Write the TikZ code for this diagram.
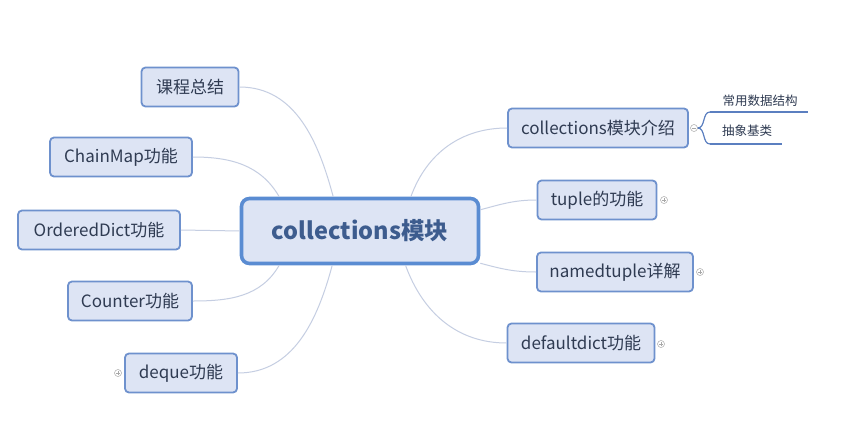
\documentclass[tikz,border=0pt]{standalone}
\usepackage{fontspec}
\setmainfont{Noto Sans CJK SC}
\definecolor{boxfill}{HTML}{DDE4F4}
\definecolor{boxline}{HTML}{6E91CD}
\definecolor{rootline}{HTML}{5A8CD2}
\definecolor{boxtext}{HTML}{2F3B52}
\definecolor{roottext}{HTML}{3D5C8E}
\definecolor{linkcol}{HTML}{C5CEE2}
\definecolor{leafline}{HTML}{5B7FC0}
\definecolor{markcol}{HTML}{A8A8A8}
\begin{document}
\begin{tikzpicture}[x=1pt,y=-1pt,
  topic/.style={draw=boxline,line width=1.8pt,fill=boxfill,rounded corners=4pt,minimum height=39pt,inner sep=0pt,text=boxtext,font=\fontsize{17}{19}\selectfont},
  root/.style={draw=rootline,line width=3.6pt,fill=boxfill,rounded corners=8pt,minimum width=237pt,minimum height=65pt,text=roottext,font=\fontsize{23.5}{27}\selectfont\bfseries},
  link/.style={draw=linkcol,line width=1pt},
  marker/.style={circle,draw=markcol,line width=0.5pt,fill=white,minimum size=7pt,inner sep=0pt},
  leaf/.style={text=boxtext,inner sep=1pt,font=\fontsize{12.5}{14}\selectfont},
  leafline/.style={draw=leafline,line width=2pt}]
\useasboundingbox[fill=white] (0,0) rectangle (866,444);
\node[root] (root) at (360,231) {collections模块};
\node[topic,minimum width=97pt] (summary) at (190,87) {课程总结};
\node[topic,minimum width=142pt] (chainmap) at (121,157) {ChainMap功能};
\node[topic,minimum width=162pt] (ordered) at (99,230) {OrderedDict功能};
\node[topic,minimum width=124pt] (counter) at (130,301) {Counter功能};
\node[topic,minimum width=112pt] (deque) at (181,373) {deque功能};
\node[topic,minimum width=180pt] (intro) at (598,128) {collections模块介绍};
\node[topic,minimum width=119pt] (tuple) at (597,200) {tuple的功能};
\node[topic,minimum width=156pt] (named) at (615,272) {namedtuple详解};
\node[topic,minimum width=147pt] (default) at (581,343) {defaultdict功能};
\draw[link] (summary.east) to[out=0,in=105] (root.128.5);
\draw[link] (chainmap.east) to[out=0,in=120] (root.157);
\draw[link] (ordered.east) -- (root.west);
\draw[link] (counter.east) to[out=0,in=-120] (root.203);
\draw[link] (deque.east) to[out=0,in=-105] (root.231.5);
\draw[link] (intro.west) to[out=180,in=70] (root.34);
\draw[link] (tuple.west) to[out=180,in=15] (root.10.9);
\draw[link] (named.west) to[out=180,in=-15] (root.345.5);
\draw[link] (default.west) to[out=180,in=-70] (root.323);
% sub topics
\node[marker] (intromark) at (694,128) {};
\draw[markcol,line width=0.5pt] ([xshift=-2pt]intromark.center) -- ([xshift=2pt]intromark.center);
\coordinate (dsstart) at (710,112);
\coordinate (abcstart) at (710,144);
\node[leaf] (ds) at (760,101) {常用数据结构};
\node[leaf] (abc) at (747,131) {抽象基类};
\draw[leafline,line width=1.2pt] (intromark.east) to[out=0,in=180] (dsstart);
\draw[leafline,line width=1.2pt] (intromark.east) to[out=0,in=180] (abcstart);
\draw[leafline] (dsstart) -- (808,112);
\draw[leafline] (abcstart) -- (782,144);
% expand markers
\foreach \name/\pos in {tuplemark/{(664,200)},namedmark/{(700,272)},defaultmark/{(661,344)},dequemark/{(118,373)}} {
  \node[marker] (\name) at \pos {};
  \draw[markcol,line width=0.5pt] ([xshift=-2pt]\name.center) -- ([xshift=2pt]\name.center)
    ([yshift=-2pt]\name.center) -- ([yshift=2pt]\name.center);
}
\end{tikzpicture}
\end{document}
